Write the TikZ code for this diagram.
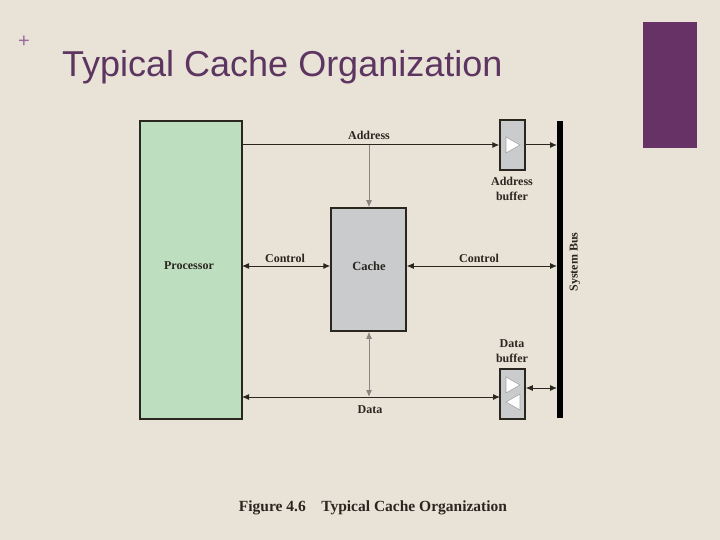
\documentclass[tikz,border=0pt]{standalone}
\usepackage{fontspec}
\setmainfont{Liberation Serif}
\newfontfamily\titlefont{Liberation Sans}
\usetikzlibrary{arrows.meta}
\definecolor{bgc}{HTML}{E9E2D7}
\definecolor{procc}{HTML}{BEDEC0}
\definecolor{cachec}{HTML}{C9CBCD}
\definecolor{titlec}{HTML}{5C3560}
\definecolor{plusc}{HTML}{9A6A9E}
\definecolor{barc}{HTML}{673366}
\definecolor{linec}{HTML}{2A2620}
\definecolor{vlinec}{HTML}{8A8580}
\tikzset{
  tip/.tip={Latex[length=7pt,width=6pt]},
  box/.style={draw=linec, line width=1.5pt, inner sep=0pt},
  lbl/.style={font=\bfseries\fontsize{12}{15}\selectfont, text=linec, align=center},
  conn/.style={draw=linec, line width=1pt, -tip},
  bconn/.style={draw=linec, line width=1pt, tip-tip},
  vconn/.style={draw=vlinec, line width=1pt},
  tri/.style={fill=white, draw=gray!70, line width=0.6pt},
}
\begin{document}
\begin{tikzpicture}[x=1pt,y=-1pt]
\useasboundingbox (0,0) rectangle (720,540);
\fill[bgc] (0,0) rectangle (720,540);
% decorations
\fill[barc] (643,22) rectangle (697,148);
\node[text=plusc, font=\titlefont\fontsize{20}{20}\selectfont] (plus) at (24,42) {+};
\node[anchor=base west, text=titlec, inner sep=0pt, font=\titlefont\fontsize{36}{36}\selectfont] (title) at (62,77) {Typical Cache Organization};
% boxes
\node[box, fill=procc, minimum width=102pt, minimum height=298pt] (proc) at (191,270) {};
\node[lbl] (proclbl) at (189,266) {Processor};
\node[box, fill=cachec, minimum width=75pt, minimum height=123pt] (cache) at (368.5,269.5) {};
\node[lbl, font=\bfseries\fontsize{12.5}{14}\selectfont] (cachelbl) at (369,266) {Cache};
\node[box, fill=cachec, minimum width=25pt, minimum height=50pt] (abuf) at (512.5,145) {};
\node[box, fill=cachec, minimum width=25pt, minimum height=50pt] (dbuf) at (512.5,394) {};
% bus
\draw[line width=6pt, black] (560,121) coordinate (bustop) -- (560,418) coordinate (busbot);
\coordinate (busA) at (557,145);
\coordinate (busC) at (557,266);
\coordinate (busD) at (557,388);
% triangles
\draw[tri] (506,137) -- (520,145) -- (506,153) -- cycle;
\draw[tri] (506,377) -- (520,385) -- (506,393) -- cycle;
\draw[tri] (520,394) -- (506,402) -- (520,410) -- cycle;
% address line
\coordinate (pA) at (242,145);
\draw[conn] (pA) -- (abuf.west);
\draw[conn] (abuf.east) -- (busA);
\coordinate (cA) at (369,145);
\draw[vconn, -tip] (cA) -- (cache.north -| cA);
% control
\coordinate (pC) at (242,266);
\draw[bconn] (pC) -- (cache.west |- pC);
\draw[bconn] (cache.east |- pC) -- (busC);
% data
\coordinate (pD) at (242,397);
\coordinate (dD) at (500,397);
\draw[bconn] (pD) -- (dD);
\coordinate (cD) at (369,397);
\draw[vconn, tip-tip] (cache.south -| cD) -- (cD);
\draw[bconn] (dbuf.east |- busD) -- (busD);
% labels
\node[lbl] (addrlbl) at (369,135) {Address};
\node[lbl] (ctl1) at (285,258) {Control};
\node[lbl] (ctl2) at (479,258) {Control};
\node[lbl] (datalbl) at (370,410) {Data};
\node[lbl] (abuflbl) at (512,189) {Address\\buffer};
\node[lbl] (dbuflbl) at (512,351) {Data\\buffer};
\node[lbl, rotate=90] (buslbl) at (575,262) {System Bus};
\node[font=\bfseries\fontsize{15.5}{16}\selectfont, text=linec] (caption) at (373,508) {Figure 4.6\quad Typical Cache Organization};
\end{tikzpicture}
\end{document}
